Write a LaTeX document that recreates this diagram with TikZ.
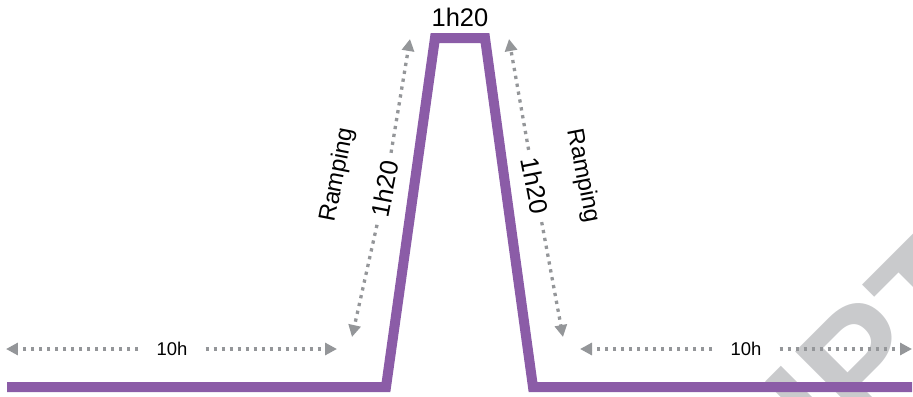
\documentclass[tikz,border=0pt]{standalone}
\usepackage{fontspec}
\setmainfont{Liberation Sans}
\usepackage{tikz}
\usetikzlibrary{arrows.meta}
\definecolor{rampviolet}{RGB}{139,92,167}
\definecolor{arrowgray}{RGB}{148,150,153}
\definecolor{markgray}{RGB}{201,202,204}

\begin{document}
\begin{tikzpicture}[x=0.02cm,y=-0.02cm,
    profile/.style={line width=0.2cm,rampviolet,line join=miter},
    timearrow/.style={arrowgray,line width=0.066cm,dash pattern=on 0.066cm off 0.094cm,-{Triangle[length=0.24cm,width=0.24cm]}},
    dur/.style={font=\fontsize{10.5}{12}\selectfont,inner xsep=0.36cm},
    slopelabel/.style={font=\fontsize{14.5}{16}\selectfont,inner xsep=0.16cm},
    rampword/.style={font=\fontsize{13.5}{16}\selectfont}]
    \useasboundingbox (0,0) rectangle (913,396);
    \begin{scope}
        \clip (0,0) rectangle (913,396);
        \node[markgray,rotate=45,anchor=base west,inner sep=0pt,font=\fontsize{88}{88}\selectfont\bfseries] (mark) at (833,465) {IPT};
    \end{scope}
    \draw[profile] (7,387) -- (386,387) -- (435,38) -- (485,38) -- (533,387) -- (912,387);
    \node[font=\fontsize{14.5}{16}\selectfont] (peak) at (460,17) {1h20};
    \coordinate (lefttip) at (6,349);
    \coordinate (leftend) at (337,349);
    \coordinate (righttip) at (580,349);
    \coordinate (rightend) at (912,349);
    \node[dur] (lefthours) at (172,349) {10h};
    \node[dur] (righthours) at (746,349) {10h};
    \draw[timearrow] (lefthours) -- (lefttip);
    \draw[timearrow] (lefthours) -- (leftend);
    \draw[timearrow] (righthours) -- (righttip);
    \draw[timearrow] (righthours) -- (rightend);
    \coordinate (upleft) at (410,39);
    \coordinate (downleft) at (352,337);
    \coordinate (upright) at (509,39);
    \coordinate (downright) at (563,337);
    \node[slopelabel,rotate=79] (leftramp) at (385,189) {1h20};
    \node[slopelabel,rotate=-79] (rightramp) at (535,186) {1h20};
    \node[rampword,rotate=79] (leftword) at (338,175) {Ramping};
    \node[rampword,rotate=-79] (rightword) at (583,176) {Ramping};
    \draw[timearrow] (leftramp) -- (upleft);
    \draw[timearrow] (leftramp) -- (downleft);
    \draw[timearrow] (rightramp) -- (upright);
    \draw[timearrow] (rightramp) -- (downright);
\end{tikzpicture}
\end{document}
